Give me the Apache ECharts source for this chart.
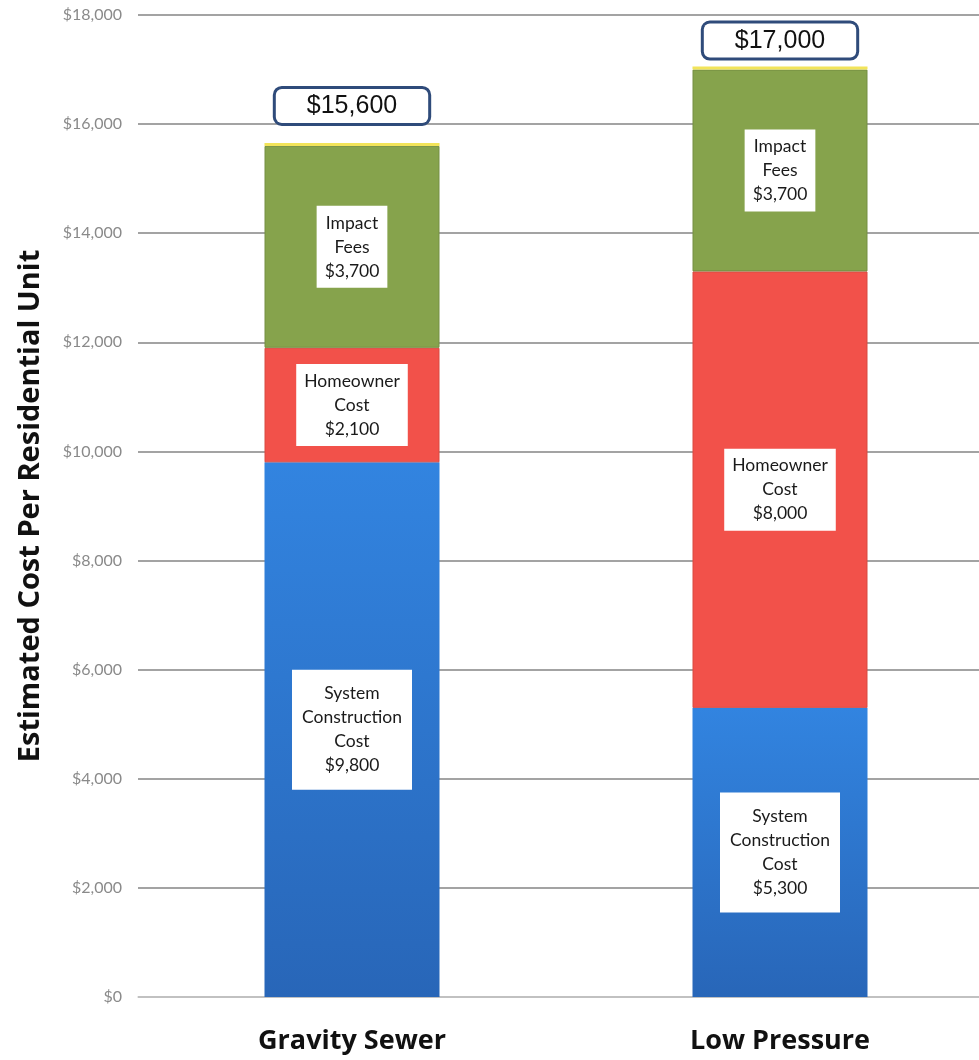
<!DOCTYPE html>
<html>
<head>
<meta charset="utf-8">
<script src="https://cdn.jsdelivr.net/npm/echarts@6/dist/echarts.min.js"></script>
<style>
html,body{margin:0;padding:0;background:#fff;}
#chart{width:979px;height:1060px;}
</style>
</head>
<body>
<div id="chart"></div>
<script>
const categories = ['Gravity Sewer', 'Low Pressure'];
const systemConstruction = [9800, 5300];
const homeownerCost = [2100, 8000];
const impactFees = [3700, 3700];
const capStrip = [55, 55];
const yTicks = [0, 2000, 4000, 6000, 8000, 10000, 12000, 14000, 16000, 18000];

const fmt = v => '$' + v.toLocaleString('en-US');
const totals = categories.map((c, i) => systemConstruction[i] + homeownerCost[i] + impactFees[i]);

const segLabel = (prefix, pad) => ({
  show: true,
  position: 'inside',
  formatter: p => prefix + '\n' + fmt(p.value),
  backgroundColor: '#ffffff',
  padding: pad,
  color: '#1a1a1a',
  fontFamily: 'Lato',
  fontSize: 17.5,
  lineHeight: 24,
  align: 'center'
});

const chart = echarts.init(document.getElementById('chart'));
chart.setOption({
  animation: false,
  backgroundColor: '#ffffff',
  grid: { left: 138, right: -15, top: 15, bottom: 63, containLabel: false, outerBoundsMode: 'none' },
  xAxis: {
    type: 'category',
    data: categories,
    axisLine: { lineStyle: { color: '#cccccc', width: 1.5 } },
    axisTick: { show: false },
    axisLabel: { fontFamily: 'Open Sans', fontWeight: 'bold', fontSize: 27, color: '#111', margin: 31 }
  },
  yAxis: {
    type: 'value',
    min: yTicks[0],
    max: yTicks[yTicks.length - 1],
    interval: 2000,
    name: 'Estimated Cost Per Residential Unit',
    nameLocation: 'middle',
    nameGap: 93,
    nameTextStyle: { fontFamily: 'Open Sans', fontWeight: 'bold', fontSize: 29, color: '#111' },
    axisLine: { show: false },
    axisTick: { show: false },
    axisLabel: { formatter: v => fmt(v), fontFamily: 'Lato', fontSize: 16, color: '#8a8a8a', margin: 16 },
    splitLine: { lineStyle: { color: '#858585', width: 1.5 } }
  },
  series: [
    {
      name: 'System Construction Cost',
      type: 'bar', stack: 'total', barWidth: 175,
      data: systemConstruction,
      itemStyle: {
        color: new echarts.graphic.LinearGradient(0, 0, 0, 1, [
          { offset: 0, color: '#3284e0' }, { offset: 1, color: '#2866b8' }
        ])
      },
      label: segLabel('System\nConstruction\nCost', [12, 10])
    },
    {
      name: 'Homeowner Cost',
      type: 'bar', stack: 'total',
      data: homeownerCost,
      itemStyle: { color: '#f2514a', borderColor: '#d84a40', borderWidth: 1 },
      label: segLabel('Homeowner\nCost', [5, 8])
    },
    {
      name: 'Impact Fees',
      type: 'bar', stack: 'total',
      data: impactFees,
      itemStyle: { color: '#86a34c', borderColor: '#758f42', borderWidth: 1 },
      label: segLabel('Impact\nFees', [5, 8])
    },
    {
      name: 'Total',
      type: 'bar', stack: 'total',
      data: capStrip.map((v, i) => ({ value: v, label: { distance: i === 0 ? 20 : 9 } })),
      itemStyle: { color: '#f2e45a' },
      label: {
        show: true,
        position: 'top',
        formatter: p => fmt(totals[p.dataIndex]),
        fontFamily: 'Liberation Sans',
        fontSize: 25,
        color: '#111',
        backgroundColor: '#ffffff',
        borderColor: '#2f4b7a',
        borderWidth: 3,
        borderRadius: 6,
        padding: [5, 31, 4, 31]
      }
    }
  ]
});
</script>
</body>
</html>
